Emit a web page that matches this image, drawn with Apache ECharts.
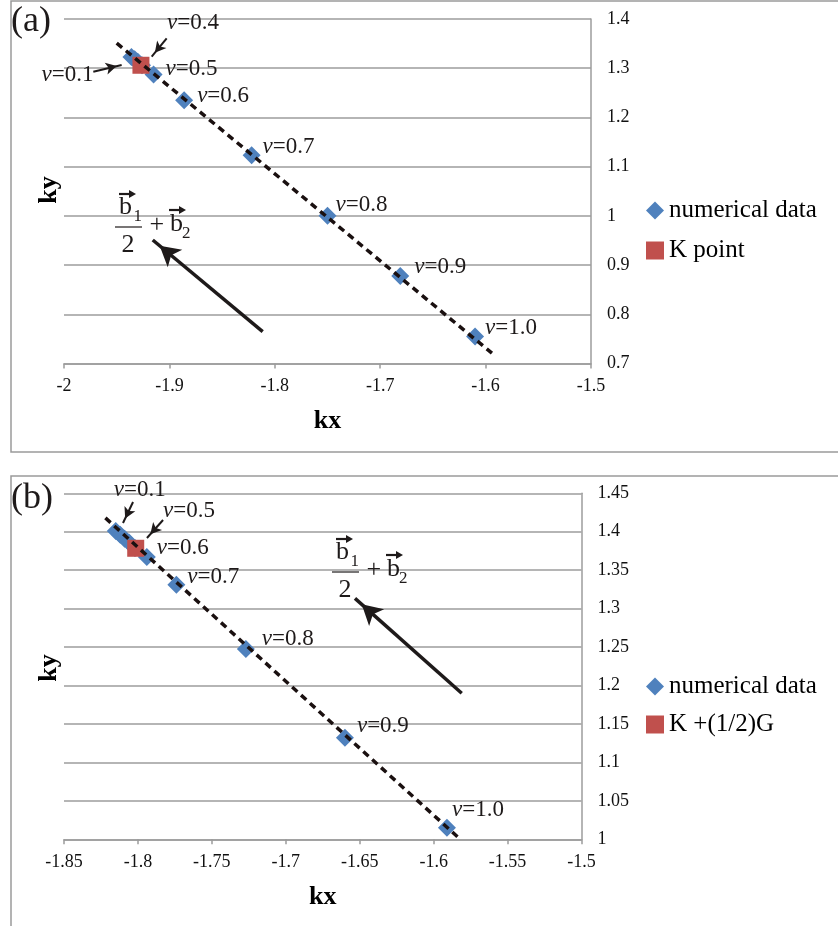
<!DOCTYPE html>
<html><head><meta charset="utf-8">
<script src="https://cdn.jsdelivr.net/npm/echarts@6/dist/echarts.min.js"></script>
<style>html,body{margin:0;padding:0;background:#fff}#c{width:838px;height:926px}</style>
</head><body><div id="c"></div>
<script>
// ===== data: panel (a) =====
const vLabels = ['0.1','0.2','0.3','0.4','0.5','0.6','0.7','0.8','0.9','1.0'];
const kxA = [-1.936,-1.933,-1.930,-1.926,-1.915,-1.886,-1.822,-1.750,-1.681,-1.610];
const kyA = [1.323,1.318,1.313,1.306,1.287,1.235,1.123,1.000,0.878,0.755];
const kPointA = [-1.927, 1.306];
const trendAx = [-1.950, -1.594];
const trendAy = [1.351, 0.721];
const xAxisA = [-2, -1.5, 0.1];   // min, max, interval
const yAxisA = [0.7, 1.4, 0.1];
// ===== data: panel (b) =====
const kxB = [-1.815,-1.812,-1.809,-1.806,-1.802,-1.794,-1.774,-1.727,-1.660,-1.591];
const kyB = [1.401,1.396,1.391,1.386,1.379,1.367,1.331,1.2475,1.132,1.015];
const kPointB = [-1.8015, 1.3785];
const trendBx = [-1.822, -1.582];
const trendBy = [1.418, 1.000];
const xAxisB = [-1.85, -1.5, 0.05];
const yAxisB = [1, 1.45, 0.05];
// legend names
const legendA = ['numerical data', 'K point'];
const legendB = ['numerical data', 'K +(1/2)G'];

// ===== annotation layout (positions only) =====
const labelOffA = {0:[-99,18], 3:[16,-42], 4:[3,-6], 5:[4,-4], 6:[2,-8], 7:[-1,-11], 8:[5,-9], 9:[1,-8]};
const labelOffB = {0:[-11,-41], 4:[19,-37], 5:[1,-9], 6:[2,-8], 7:[7,-10], 8:[3,-12], 9:[-4,-18]};
const smallArrowsA = [[[-1.9026,1.3608],[-1.9168,1.3234]], [[-1.9722,1.2929],[-1.9453,1.3066]]];
const bigArrowA = [[-1.8115,0.7646],[-1.9158,0.951]];
const smallArrowsB = [[[-1.8033,1.4387],[-1.8101,1.4114]], [[-1.7830,1.4153],[-1.7939,1.3919]]];
const bigArrowB = [[-1.5810,1.1899],[-1.6532,1.3134]];

const FONT = 'Liberation Serif';
const GRAY = '#9c9c9c';
const INK = '#1e1a1a';

function pts(kx, ky, offs) {
  return kx.map((x, i) => {
    const it = { value: [x, ky[i]] };
    if (offs[i]) {
      it.label = {
        show: true, position: 'right', distance: 0, offset: offs[i], opacity: 1,
        formatter: '{i|v}{n|=' + vLabels[i] + '}',
        rich: {
          i: { fontFamily: FONT, fontSize: 23, fontStyle: 'italic', color: INK },
          n: { fontFamily: FONT, fontSize: 23, color: INK }
        }
      };
    }
    return it;
  });
}

function arrowLines(small, big) {
  const data = [];
  small.forEach(a => data.push([
    { coord: a[0], symbol: 'none' },
    { coord: a[1], symbol: 'arrow', symbolSize: [9, 11], symbolOffset: [0, 5], lineStyle: { width: 2 } }
  ]));
  data.push([
    { coord: big[0], symbol: 'none' },
    { coord: big[1], symbol: 'arrow', symbolSize: [17, 20], symbolOffset: [0, 9], lineStyle: { width: 3.5 } }
  ]);
  return {
    silent: true, animation: false, symbol: ['none', 'arrow'],
    label: { show: false },
    lineStyle: { color: INK, type: 'solid', width: 2, opacity: 1 },
    itemStyle: { color: INK, opacity: 1 },
    emphasis: { disabled: true },
    data: data
  };
}

function axisX(r, gi) {
  return {
    type: 'value', gridIndex: gi, min: r[0], max: r[1], interval: r[2],
    position: 'bottom',
    axisLine: { show: true, lineStyle: { color: GRAY, width: 1.5 } },
    axisTick: { show: true, length: 5, lineStyle: { color: GRAY, width: 1.5 } },
    axisLabel: { margin: 14, fontFamily: FONT, fontSize: 18, color: '#111' },
    splitLine: { show: false },
    name: 'kx', nameLocation: 'middle', nameGap: 45,
    nameTextStyle: { fontFamily: FONT, fontSize: 26, fontWeight: 'bold', color: '#000' }
  };
}
function axisY(r, gi) {
  return {
    type: 'value', gridIndex: gi, min: r[0], max: r[1], interval: r[2],
    position: 'right',
    axisLine: { show: true, lineStyle: { color: GRAY, width: 1.5 } },
    axisTick: { show: false },
    axisLabel: { margin: 16, fontFamily: FONT, fontSize: 18, color: '#111' },
    splitLine: { show: true, lineStyle: { color: GRAY, width: 1.5 } }
  };
}

function formula(x0, y0) {
  const t = (txt, x, y, fs) => ({ type: 'text', x: x0 + x, y: y0 + y, z: 10,
    style: { text: txt, font: fs + 'px "' + FONT + '"', fill: INK, verticalAlign: 'middle', align: 'left' } });
  const vec = (x1, x2, y) => [
    { type: 'line', z: 10, shape: { x1: x0 + x1, y1: y0 + y, x2: x0 + x2 - 4, y2: y0 + y }, style: { stroke: INK, lineWidth: 2.2 } },
    { type: 'polygon', z: 10, shape: { points: [[x0 + x2, y0 + y], [x0 + x2 - 7, y0 + y - 4], [x0 + x2 - 7, y0 + y + 4]] }, style: { fill: INK } }
  ];
  return [
    t('b', 4, -20, 26), t('1', 18.5, -10, 17), ...vec(4, 21, -33),
    { type: 'line', z: 10, shape: { x1: x0, y1: y0, x2: x0 + 27, y2: y0 }, style: { stroke: INK, lineWidth: 1.2 } },
    t('2', 6.5, 17.7, 26),
    t('+', 34.5, -2, 26),
    t('b', 55, -3, 26), t('2', 67, 7, 17), ...vec(54, 71, -17)
  ];
}

function legend(names, top, gap) {
  return {
    orient: 'vertical', left: 641, top: top, itemWidth: 18, itemHeight: 18, itemGap: gap,
    selectedMode: false,
    textStyle: { fontFamily: FONT, fontSize: 25, color: '#000' },
    data: [{ name: names[0], icon: 'diamond' }, { name: names[1], icon: 'rect' }]
  };
}

const chart = echarts.init(document.getElementById('c'), null, { renderer: 'canvas' });
chart.setOption({
  animation: false,
  backgroundColor: '#fff',
  grid: [
    { left: 64, right: 247, top: 19, bottom: 562.5 },
    { left: 64, right: 256.5, top: 493.3, bottom: 86.7 }
  ],
  xAxis: [axisX(xAxisA, 0), axisX(xAxisB, 1)],
  yAxis: [axisY(yAxisA, 0), axisY(yAxisB, 1)],
  legend: [legend(legendA, 193, 15), legend(legendB, 669, 13)],
  series: [
    { name: legendA[0], type: 'scatter', xAxisIndex: 0, yAxisIndex: 0, symbol: 'diamond', symbolSize: 18,
      itemStyle: { color: '#4f81bd', opacity: 1 }, z: 2, data: pts(kxA, kyA, labelOffA) },
    { name: legendA[1], type: 'scatter', xAxisIndex: 0, yAxisIndex: 0, symbol: 'rect', symbolSize: 17,
      itemStyle: { color: '#c0504d', opacity: 1 }, z: 3, data: [kPointA] },
    { name: 'trend a', type: 'line', xAxisIndex: 0, yAxisIndex: 0, showSymbol: false, symbol: 'none', z: 4,
      lineStyle: { color: '#1a1010', width: 3.5, type: [7, 5] },
      data: trendAx.map((x, i) => [x, trendAy[i]]),
      markLine: arrowLines(smallArrowsA, bigArrowA) },
    { name: legendB[0], type: 'scatter', xAxisIndex: 1, yAxisIndex: 1, symbol: 'diamond', symbolSize: 18,
      itemStyle: { color: '#4f81bd', opacity: 1 }, z: 2, data: pts(kxB, kyB, labelOffB) },
    { name: legendB[1], type: 'scatter', xAxisIndex: 1, yAxisIndex: 1, symbol: 'rect', symbolSize: 17,
      itemStyle: { color: '#c0504d', opacity: 1 }, z: 3, data: [kPointB] },
    { name: 'trend b', type: 'line', xAxisIndex: 1, yAxisIndex: 1, showSymbol: false, symbol: 'none', z: 4,
      lineStyle: { color: '#1a1010', width: 3.5, type: [7, 5] },
      data: trendBx.map((x, i) => [x, trendBy[i]]),
      markLine: arrowLines(smallArrowsB, bigArrowB) }
  ],
  graphic: [
    { type: 'rect', z: -1, silent: true, shape: { x: 11, y: 1, width: 840, height: 451 }, style: { fill: 'none', stroke: '#9a9a9a', lineWidth: 1.5 } },
    { type: 'rect', z: -1, silent: true, shape: { x: 11, y: 476, width: 840, height: 470 }, style: { fill: 'none', stroke: '#9a9a9a', lineWidth: 1.5 } },
    { type: 'text', x: 11, y: 22, style: { text: '(a)', font: '36px "' + FONT + '"', fill: INK, verticalAlign: 'middle' } },
    { type: 'text', x: 11, y: 499, style: { text: '(b)', font: '36px "' + FONT + '"', fill: INK, verticalAlign: 'middle' } },
    { type: 'text', x: 49, y: 190, rotation: Math.PI / 2, style: { text: 'ky', font: 'bold 26px "' + FONT + '"', fill: '#000', align: 'center', verticalAlign: 'middle' } },
    { type: 'text', x: 49, y: 668, rotation: Math.PI / 2, style: { text: 'ky', font: 'bold 26px "' + FONT + '"', fill: '#000', align: 'center', verticalAlign: 'middle' } },
    ...formula(115, 227),
    ...formula(332, 572)
  ]
});
</script>
</body></html>
